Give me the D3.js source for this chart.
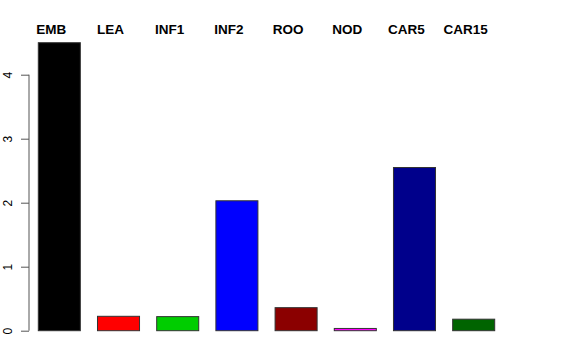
<!DOCTYPE html>
<html>
<head>
<meta charset="utf-8">
<script src="https://cdn.jsdelivr.net/npm/d3@7"></script>
<style>
  body { margin: 0; background: #fff; }
  svg { display: block; font-family: "Liberation Sans", Arial, sans-serif; }
</style>
</head>
<body>
<div id="graf"></div>
<script>
// data
const tissues = ['EMB', 'LEA', 'INF1', 'INF2', 'ROO', 'NOD', 'CAR5', 'CAR15']
const values = [4.5, 0.225, 0.22, 2.03, 0.36, 0.035, 2.55, 0.18]
const colores = ['#000000', '#ff0000', '#00cd00', '#0000ff', '#8b0000', '#ff00ff', '#00008b', '#006400']
const yTicks = [0, 1, 2, 3, 4]

const anchoTotal = 576
const altoTotal = 360

const svg = d3.select('#graf')
  .append('svg')
  .attr('width', anchoTotal)
  .attr('height', altoTotal)

// scales
const x = d3.scaleBand()
  .domain(tissues)
  .range([38.3, 494.7])
  .paddingInner(0.29)
  .paddingOuter(0)

const y = d3.scaleLinear()
  .domain([0, 4])
  .range([330.7, 74.7])

// bars
svg.selectAll('rect.bar')
  .data(tissues)
  .enter()
  .append('rect')
  .attr('class', 'bar')
  .attr('x', (d) => x(d))
  .attr('y', (d, i) => y(values[i]))
  .attr('width', x.bandwidth())
  .attr('height', (d, i) => y(0) - y(values[i]))
  .attr('fill', (d, i) => colores[i])
  .attr('stroke', '#333')
  .attr('stroke-width', 1)

// labels above the plot
svg.selectAll('text.lab')
  .data(tissues)
  .enter()
  .append('text')
  .attr('class', 'lab')
  .attr('x', (d) => x(d) + x.bandwidth() / 2 - 8)
  .attr('y', 34)
  .attr('text-anchor', 'middle')
  .attr('font-weight', 'bold')
  .attr('font-size', '13.5px')
  .attr('fill', '#000')
  .text((d) => d)

// y axis, R style
const eje = svg.append('g')
  .attr('transform', 'translate(29, 0)')
  .call(d3.axisLeft(y).tickValues(yTicks).tickSize(8).tickPadding(0).tickFormat(d3.format('d')))

eje.select('.domain')
  .attr('d', `M0,${y(0)}V${y(4)}`)
  .attr('stroke', '#555')
eje.selectAll('.tick line').attr('stroke', '#555')
eje.selectAll('.tick text')
  .attr('transform', 'rotate(-90)')
  .attr('text-anchor', 'middle')
  .attr('x', 0)
  .attr('y', -17)
  .attr('dy', 0)
  .attr('font-size', '12px')
  .attr('font-family', '"Liberation Sans", Arial, sans-serif')
  .attr('fill', '#000')
</script>
</body>
</html>
